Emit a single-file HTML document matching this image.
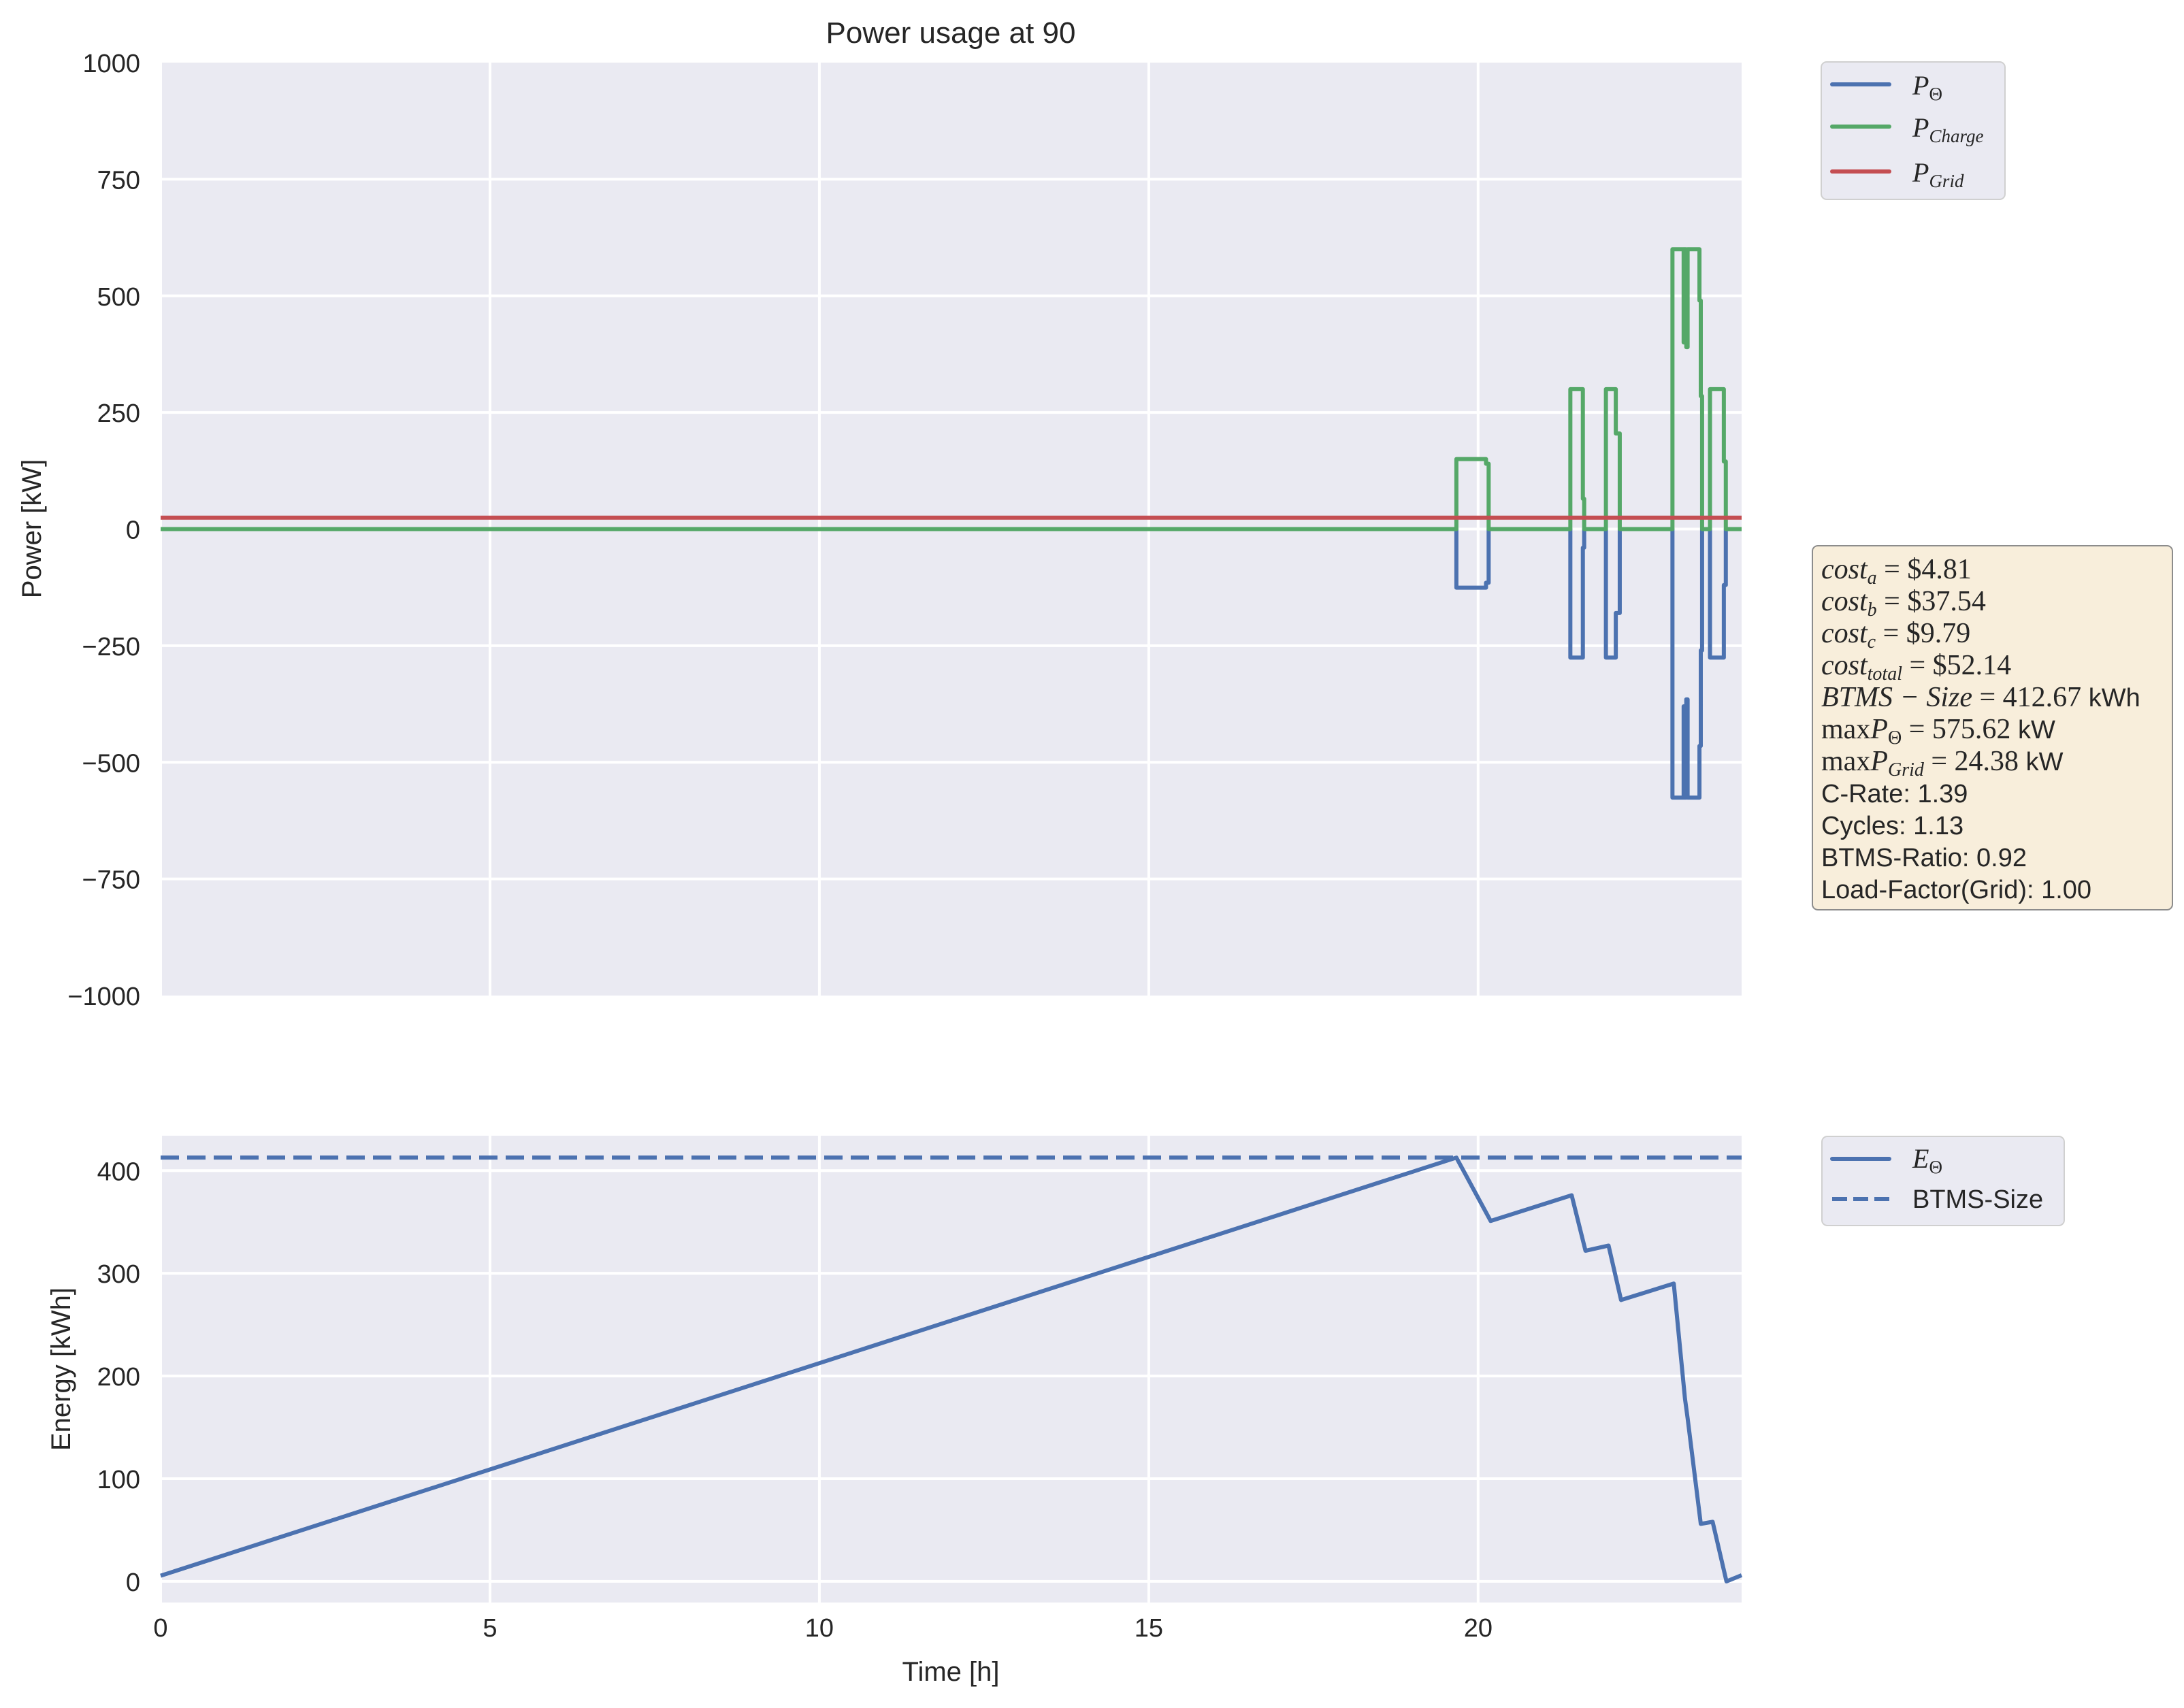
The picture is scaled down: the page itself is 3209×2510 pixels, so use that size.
<!DOCTYPE html>
<html><head><meta charset="utf-8"><style>
html,body{margin:0;padding:0;background:#fff;}
svg{display:block;font-family:"Liberation Sans",sans-serif;}
.math{font-family:"Liberation Serif",serif;font-style:italic;}
</style></head><body>
<svg id="chart" width="3209" height="2510" viewBox="0 0 3209 2510" xmlns="http://www.w3.org/2000/svg">
<text x="1397" y="63" font-size="44" text-anchor="middle" fill="#262626">Power usage at 90</text>
<rect x="236" y="92" width="2323" height="1371" fill="#eaeaf2"/>
<rect x="236" y="1669" width="2323" height="686" fill="#eaeaf2"/>
<g id="grid"></g>
<g id="marks"></g>
<g id="labels" fill="#262626" font-size="38"></g>
<text transform="translate(60,777) rotate(-90)" font-size="40" text-anchor="middle" fill="#262626">Power [kW]</text>
<text transform="translate(103,2012) rotate(-90)" font-size="40" text-anchor="middle" fill="#262626">Energy [kWh]</text>
<text x="1397" y="2470" font-size="40" text-anchor="middle" fill="#262626">Time [h]</text>

<g>
<rect x="2676" y="91" width="270" height="202" rx="8" fill="#eaeaf2" stroke="#d0d0d0" stroke-width="2"/>
<line x1="2692" y1="124" x2="2776" y2="124" stroke="#4c72b0" stroke-width="6" stroke-linecap="round"/>
<line x1="2692" y1="186" x2="2776" y2="186" stroke="#55a868" stroke-width="6" stroke-linecap="round"/>
<line x1="2692" y1="252" x2="2776" y2="252" stroke="#c44e52" stroke-width="6" stroke-linecap="round"/>
<text x="2810" y="139" font-size="40" class="math" fill="#262626">P<tspan font-size="27" font-style="normal" dy="8">Θ</tspan></text>
<text x="2810" y="201" font-size="40" class="math" fill="#262626">P<tspan font-size="27" dy="8">Charge</tspan></text>
<text x="2810" y="267" font-size="40" class="math" fill="#262626">P<tspan font-size="27" dy="8">Grid</tspan></text>
</g>
<g>
<rect x="2677" y="1670" width="356" height="131" rx="8" fill="#eaeaf2" stroke="#d0d0d0" stroke-width="2"/>
<line x1="2692" y1="1703" x2="2776" y2="1703" stroke="#4c72b0" stroke-width="6" stroke-linecap="round"/>
<line x1="2692" y1="1762" x2="2776" y2="1762" stroke="#4c72b0" stroke-width="6" stroke-dasharray="22,9"/>
<text x="2810" y="1716" font-size="40" class="math" fill="#262626">E<tspan font-size="27" font-style="normal" dy="8">Θ</tspan></text>
<text x="2810" y="1775" font-size="38" fill="#262626">BTMS-Size</text>
</g>
<g font-size="38" fill="#262626">
<rect x="2663" y="802" width="529" height="535" rx="8" fill="#f8eedb" stroke="#8c8c8c" stroke-width="2"/>
<text x="2676" y="850" font-size="42"><tspan class="math">cost<tspan font-size="28" dy="8">a</tspan></tspan><tspan dy="-8" font-family="Liberation Serif"> = $4.81</tspan></text>
<text x="2676" y="897" font-size="42"><tspan class="math">cost<tspan font-size="28" dy="8">b</tspan></tspan><tspan dy="-8" font-family="Liberation Serif"> = $37.54</tspan></text>
<text x="2676" y="944" font-size="42"><tspan class="math">cost<tspan font-size="28" dy="8">c</tspan></tspan><tspan dy="-8" font-family="Liberation Serif"> = $9.79</tspan></text>
<text x="2676" y="991" font-size="42"><tspan class="math">cost<tspan font-size="28" dy="8">total</tspan></tspan><tspan dy="-8" font-family="Liberation Serif"> = $52.14</tspan></text>
<text x="2676" y="1038"><tspan class="math" font-size="42">BTMS − Size</tspan><tspan font-family="Liberation Serif" font-size="42"> = 412.67</tspan> kWh</text>
<text x="2676" y="1085"><tspan font-family="Liberation Serif" font-size="42">max</tspan><tspan class="math" font-size="42">P<tspan font-size="28" font-style="normal" dy="8">Θ</tspan></tspan><tspan dy="-8" font-family="Liberation Serif" font-size="42"> = 575.62</tspan> kW</text>
<text x="2676" y="1132"><tspan font-family="Liberation Serif" font-size="42">max</tspan><tspan class="math" font-size="42">P<tspan font-size="28" dy="8">Grid</tspan></tspan><tspan dy="-8" font-family="Liberation Serif" font-size="42"> = 24.38</tspan> kW</text>
<text x="2676" y="1179">C-Rate: 1.39</text>
<text x="2676" y="1226">Cycles: 1.13</text>
<text x="2676" y="1273">BTMS-Ratio: 0.92</text>
<text x="2676" y="1320">Load-Factor(Grid): 1.00</text>
</g>
</svg>
<script>
const stepTimes   = [0, 19.67, 20.12, 20.16, 21.40, 21.59, 21.61, 21.94, 22.09, 22.15, 22.95, 23.12, 23.13, 23.16, 23.18, 23.36, 23.38, 23.40, 23.52, 23.73, 23.76, 24];
const chargeVals  = [0, 150, 140, 0, 300, 65, 0, 300, 205, 0, 600, 400, 600, 390, 600, 490, 285, 0, 300, 145, 0, 0];
const thetaVals   = [0, -125.6, -115, 0, -275.6, -40, 0, -275.6, -180, 0, -575.6, -380, -575.6, -365, -575.6, -465, -260, 0, -275.6, -120, 0, 0];
const gridPower   = 24.38;
const energyTimes = [0, 19.67, 20.19, 21.42, 21.63, 21.98, 22.17, 22.97, 23.14, 23.18, 23.38, 23.56, 23.77, 24];
const energyVals  = [5.5, 412.67, 351, 376, 322, 327, 274, 290, 178, 159, 56, 58, 0, 6];
const btmsSize    = 412.67;
const xTicks      = [0, 5, 10, 15, 20];
const powerTicks  = [1000, 750, 500, 250, 0, -250, -500, -750, -1000];
const energyTicks = [0, 100, 200, 300, 400];

const NS = "http://www.w3.org/2000/svg";
const X0 = 236, X1 = 2559;
const xS = t => X0 + (t / 24) * (X1 - X0);
const pS = v => 92 + (1000 - v) / 2000 * 1371;
const eS = v => 1669 + (434 - v) / (434 + 20.6) * 686;
function mk(tag, attrs, parent) {
  const el = document.createElementNS(NS, tag);
  for (const k in attrs) el.setAttribute(k, attrs[k]);
  parent.appendChild(el);
  return el;
}
const grid = document.getElementById('grid');
const marks = document.getElementById('marks');
const labels = document.getElementById('labels');

xTicks.forEach(t => {
  const g1 = mk('line', {x1: xS(t), x2: xS(t), y1: 92, y2: 1463, stroke: '#fff', 'stroke-width': 4}, grid);
  
  
  const g2 = mk('line', {x1: xS(t), x2: xS(t), y1: 1669, y2: 2355, stroke: '#fff', 'stroke-width': 4}, grid);
  
  
  const tl = mk('text', {x: xS(t), y: 2405, 'text-anchor': 'middle'}, labels);
  tl.textContent = t;
  
  
});
powerTicks.forEach(v => {
  if (v !== 1000 && v !== -1000) {
    const gl = mk('line', {x1: X0, x2: X1, y1: pS(v), y2: pS(v), stroke: '#fff', 'stroke-width': 4}, grid);
    
    
  }
  const tl = mk('text', {x: 206, y: pS(v) + 14, 'text-anchor': 'end'}, labels);
  tl.textContent = v < 0 ? '\u2212' + Math.abs(v) : v;
  
  
});
energyTicks.forEach(v => {
  const gl = mk('line', {x1: X0, x2: X1, y1: eS(v), y2: eS(v), stroke: '#fff', 'stroke-width': 4}, grid);
  
  
  const tl = mk('text', {x: 206, y: eS(v) + 14, 'text-anchor': 'end'}, labels);
  tl.textContent = v;
  
  
});

function stepPath(ts, vs) {
  let d = 'M' + xS(ts[0]) + ',' + pS(vs[0]);
  for (let i = 1; i < ts.length; i++) {
    d += ' L' + xS(ts[i]) + ',' + pS(vs[i - 1]) + ' L' + xS(ts[i]) + ',' + pS(vs[i]);
  }
  return d;
}
const theta = mk('path', {d: stepPath(stepTimes, thetaVals), fill: 'none', stroke: '#4c72b0', 'stroke-width': 6, 'stroke-linejoin': 'round'}, marks);


const charge = mk('path', {d: stepPath(stepTimes, chargeVals), fill: 'none', stroke: '#55a868', 'stroke-width': 6, 'stroke-linejoin': 'round'}, marks);


const gridLine = mk('line', {x1: X0, x2: X1, y1: pS(gridPower), y2: pS(gridPower), stroke: '#c44e52', 'stroke-width': 6}, marks);



const btms = mk('line', {x1: X0, x2: X1, y1: eS(btmsSize), y2: eS(btmsSize), stroke: '#4c72b0', 'stroke-width': 6, 'stroke-dasharray': '27,12'}, marks);


const ePts = energyTimes.map((t, i) => xS(t) + ',' + eS(energyVals[i])).join(' ');
const eLine = mk('polyline', {points: ePts, fill: 'none', stroke: '#4c72b0', 'stroke-width': 6, 'stroke-linejoin': 'round'}, marks);


</script>
</body></html>
